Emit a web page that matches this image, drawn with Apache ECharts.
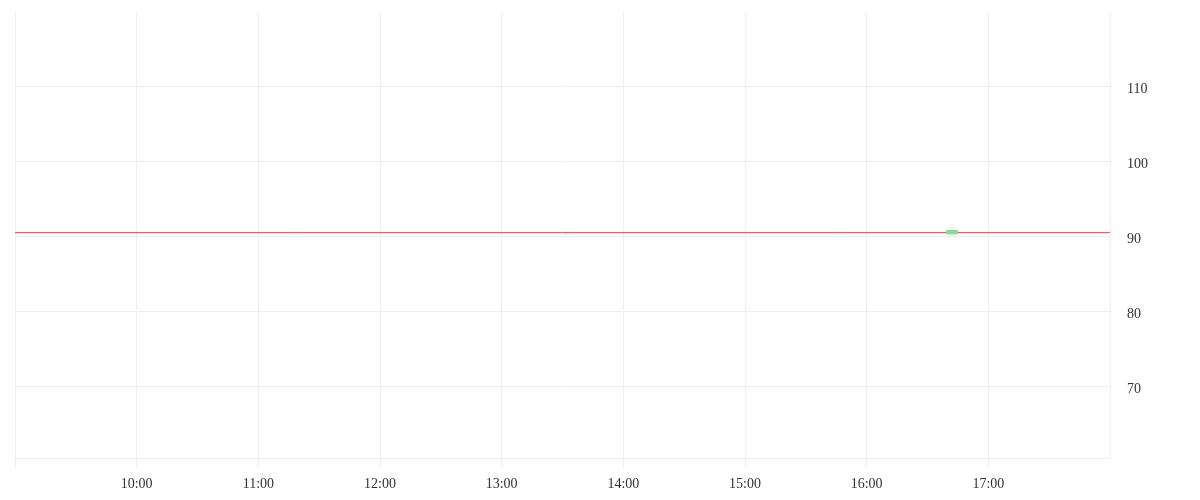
<!DOCTYPE html>
<html>
<head>
<meta charset="utf-8">
<script src="https://cdn.jsdelivr.net/npm/echarts@6/dist/echarts.min.js"></script>
<style>html,body{margin:0;padding:0;background:#fff}#c{width:1200px;height:500px}</style>
</head>
<body>
<div id="c"></div>
<script>
// Data
const day = '2024-01-02';
const axisStart = day + ' 09:00';
const axisEnd = day + ' 18:00';
const candleTimes = [day + ' 16:42'];
// [open, close, low, high]
const candleValues = [[90.3, 90.75, 90.3, 90.75]];
const refLineValue = 90.53;
const yMin = 60.4;
const yMax = 119.9;

const ts = s => new Date(s.replace(' ', 'T')).getTime();
const pad = n => (n < 10 ? '0' : '') + n;

const chart = echarts.init(document.getElementById('c'), null, {renderer: 'canvas'});
const font = '"Liberation Serif", "Times New Roman", serif';
const xMin = ts(axisStart), xMax = ts(axisEnd);

chart.setOption({
  animation: false,
  backgroundColor: '#ffffff',
  grid: {left: 15, right: 90, top: 12, bottom: 42, containLabel: false, outerBoundsMode: 'none'},
  xAxis: {
    type: 'time',
    min: xMin,
    max: xMax,
    interval: 3600000,
    minInterval: 3600000,
    maxInterval: 3600000,
    axisLine: {show: true, lineStyle: {color: '#eeeeee', width: 1}},
    axisTick: {show: true, length: 10, lineStyle: {color: '#eeeeee'}},
    splitLine: {show: true, lineStyle: {color: '#eeeeee', width: 1}},
    axisLabel: {
      show: true,
      showMinLabel: false,
      showMaxLabel: false,
      hideOverlap: false,
      margin: 19,
      color: '#333333',
      fontFamily: font,
      fontSize: 14,
      formatter: function (v) {
        if (v <= xMin || v >= xMax) return '';
        const d = new Date(v);
        return pad(d.getHours()) + ':' + pad(d.getMinutes());
      }
    }
  },
  yAxis: {
    type: 'value',
    position: 'right',
    min: yMin,
    max: yMax,
    splitNumber: 6,
    scale: true,
    axisLine: {show: false},
    axisTick: {show: false},
    splitLine: {show: true, lineStyle: {color: ['#eeeeee', '#eeeeee', '#eeeeee', '#eeeeee', '#eeeeee', '#eeeeee', 'rgba(0,0,0,0)'], width: 1}},
    axisLabel: {
      showMinLabel: false,
      showMaxLabel: false,
      margin: 17,
      color: '#333333',
      fontFamily: font,
      fontSize: 14,
      formatter: function (v) { return '{a|' + v + '}'; },
      rich: {
        a: {
          color: '#333333',
          fontFamily: font,
          fontSize: 14,
          padding: [6, 0, 0, 0]
        }
      }
    }
  },
  series: [{
    type: 'candlestick',
    data: candleTimes.map((t, i) => [ts(t)].concat(candleValues[i])),
    encode: {x: 0, y: [1, 2, 3, 4]},
    barWidth: 12,
    z: 5,
    itemStyle: {
      color: '#86da95',
      color0: '#86da95',
      borderColor: '#86da95',
      borderColor0: '#86da95'
    },
    markLine: {
      silent: true,
      z: 1,
      symbol: ['none', 'none'],
      label: {show: false},
      lineStyle: {color: '#f05a5f', width: 1, type: 'solid'},
      data: [{yAxis: refLineValue}]
    }
  }]
});
</script>
</body>
</html>
